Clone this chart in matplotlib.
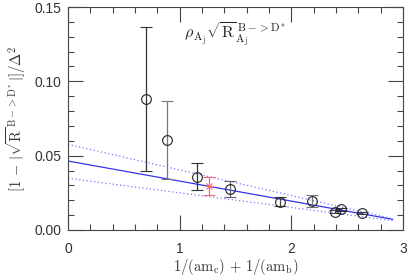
import matplotlib
matplotlib.use("Agg")
import matplotlib.pyplot as plt
from matplotlib.ticker import MultipleLocator, FormatStrFormatter

plt.rcParams["mathtext.fontset"] = "cm"
plt.rcParams["font.family"] = ["Liberation Sans", "DejaVu Sans"]

# datos
x_pts = [0.70, 0.889, 1.152, 1.450, 1.898, 2.18, 2.393, 2.44, 2.635]
y_pts = [0.0881, 0.0605, 0.0359, 0.0276, 0.0190, 0.0197, 0.0123, 0.0139, 0.0116]
err_lo = [0.0486, 0.0264, 0.0090, 0.0056, 0.0026, 0.0040, 0.0010, 0.0012, 0.0008]
err_hi = [0.0484, 0.0265, 0.0089, 0.0051, 0.0030, 0.0038, 0.0010, 0.0012, 0.0008]
bar_colors = ["#333333", "#777777", "#333333", "#666666", "#444444",
              "#777777", "#444444", "#333333", "#444444"]

# punto fisico (estrella roja)
x_phys = [1.265]
y_phys = [0.0296]
err_phys = [[0.0063], [0.0058]]

# ajuste lineal y banda
fit_x = [0.0, 2.905]
fit_y = [0.0464, 0.0072]
band_hi = [0.0576, 0.0076]
band_lo = [0.0348, 0.0063]

fig = plt.figure(figsize=(4.08, 2.77), dpi=100)
ax = fig.add_axes([0.1667, 0.1697, 0.8213, 0.805])

ax.plot(fit_x, fit_y, color="#3333ee", lw=0.9)
ax.plot(fit_x, band_hi, color="#7777ff", lw=0.9, ls=(0, (1, 2)))
ax.plot(fit_x, band_lo, color="#7777ff", lw=0.9, ls=(0, (1, 2)))

for xi, yi, lo, hi, c in zip(x_pts, y_pts, err_lo, err_hi, bar_colors):
    ax.errorbar([xi], [yi], yerr=[[lo], [hi]], fmt="o", mfc="none", mec="#222222",
                ms=7, mew=0.8, ecolor=c, elinewidth=0.9, capsize=4, capthick=0.9)

ax.errorbar(x_phys, y_phys, yerr=err_phys, fmt="x", color="#ff6677", ms=5,
            mew=0.8, elinewidth=0.9, capsize=4, capthick=0.9)
ax.plot(x_phys, y_phys, marker="+", color="#ff6677", ms=6, mew=0.8)

ax.set_xlim(0, 3)
ax.set_ylim(0, 0.15)
ax.xaxis.set_major_locator(MultipleLocator(1))
ax.xaxis.set_minor_locator(MultipleLocator(0.2))
ax.yaxis.set_major_locator(MultipleLocator(0.05))
ax.yaxis.set_minor_locator(MultipleLocator(0.01))
ax.tick_params(which="both", direction="in", top=True, right=True, color="#444444")
ax.tick_params(which="major", length=11, width=0.8, labelsize=10)
ax.tick_params(which="minor", length=4, width=0.8)
ax.tick_params(axis="x", which="major", pad=9)
ax.tick_params(axis="y", which="major", pad=5)
ax.yaxis.set_major_formatter(FormatStrFormatter("%.2f"))
ax.xaxis.set_major_formatter(FormatStrFormatter("%d"))
for s in ax.spines.values():
    s.set_color("#444444")
    s.set_linewidth(0.8)
for lbl in ax.get_xticklabels() + ax.get_yticklabels():
    lbl.set_color("#333333")

ax.set_xlabel(r"$1/(\mathrm{am}_\mathrm{c})\,+\,1/(\mathrm{am}_\mathrm{b})$", fontsize=10.5,
              color="#333333")
ax.xaxis.set_label_coords(0.5, -0.12)
ax.set_ylabel(r"$[1\,-\,|\sqrt{\mathrm{R}}^{\,\mathrm{B->D^*}}|]/\Delta^2$", fontsize=10.5,
              color="#333333")
ax.yaxis.set_label_coords(-0.12, 0.5)
ax.text(0.345, 0.875, r"$\rho_{\,\mathrm{A_j}}\sqrt{\mathrm{R}}^{\,\mathrm{B->D^*}}_{\mathrm{A_j}}$",
        transform=ax.transAxes, fontsize=11.5, color="#222222", va="center")

fig.savefig("out.png", dpi=100)
